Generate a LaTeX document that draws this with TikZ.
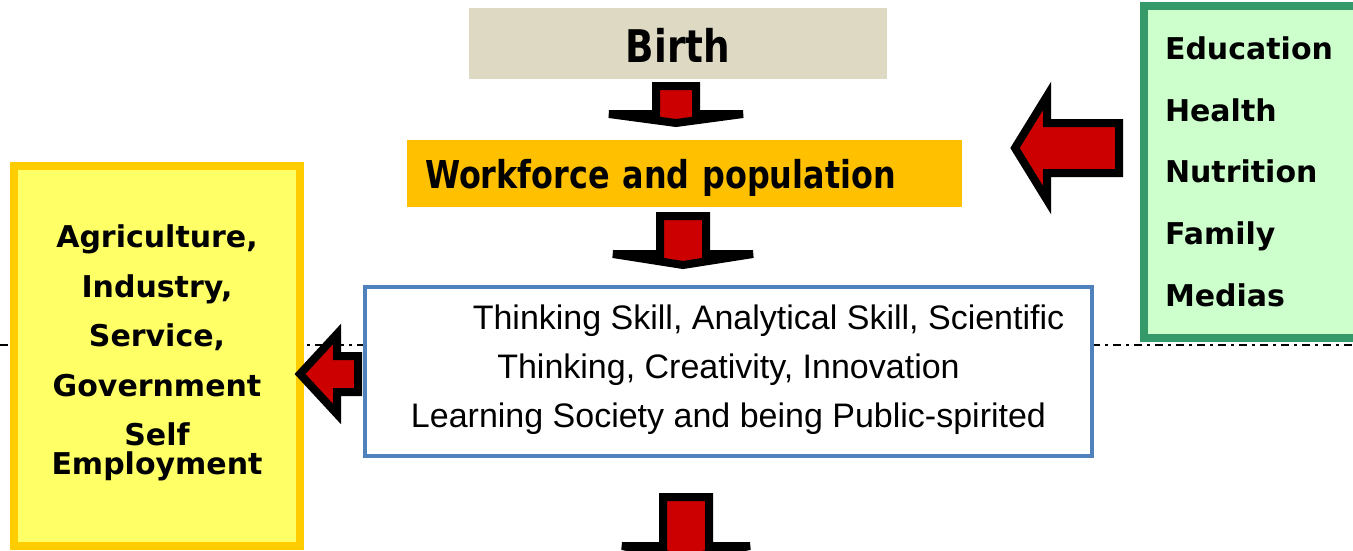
\documentclass[tikz,border=0pt]{standalone}
\usepackage{fontspec}
\setmainfont{DejaVu Sans}
\newfontfamily\narrowfont{DejaVu Sans}[FakeStretch=0.83]
\newfontfamily\skillfont{Liberation Sans}
\definecolor{birthfill}{HTML}{DDD9C3}
\definecolor{workfill}{HTML}{FFC000}
\definecolor{skillblue}{HTML}{4F81BD}
\definecolor{factorgreen}{HTML}{36996A}
\definecolor{factorfill}{HTML}{CCFFCC}
\definecolor{sectoryellow}{HTML}{FFCC00}
\definecolor{sectorfill}{HTML}{FFFF66}
\definecolor{arrowred}{HTML}{CC0000}
\begin{document}
\begin{tikzpicture}[x=1pt,y=-1pt,line join=miter,
	blockarrow/.style={fill=arrowred,draw=black,line width=8pt},
	birthbox/.style={fill=birthfill,minimum width=418pt,minimum height=71pt,inner sep=0pt,
		font=\narrowfont\bfseries\fontsize{45}{54}\selectfont,text height=37pt,text depth=0pt},
	workbox/.style={fill=workfill,minimum height=67pt,text width=519pt,inner xsep=18pt,inner ysep=0pt,align=left,
		font=\narrowfont\bfseries\fontsize{38.4}{46}\selectfont,text height=29pt,text depth=0pt},
	skillbox/.style={draw=skillblue,line width=4pt,fill=white,minimum width=727pt,minimum height=169pt,
		align=center,font=\skillfont\fontsize{34}{49}\selectfont,text depth=11pt},
	factorbox/.style={draw=factorgreen,line width=8pt,fill=factorfill,minimum height=331.5pt,
		text width=214pt,inner xsep=21pt,align=left,font=\bfseries\fontsize{30}{61.6}\selectfont},
	sectorbox/.style={draw=sectoryellow,line width=8pt,fill=sectorfill,minimum width=286pt,minimum height=380pt,
		align=center,font=\bfseries\fontsize{30}{49.5}\selectfont,text depth=13pt}]
	\useasboundingbox (0,0) rectangle (1353,550);
	\clip (0,0) rectangle (1353,550);
	% duong phan cach
	\coordinate (cutL) at (0,345);
	\coordinate (cutR) at (1353,345);
	\draw[line width=1.5pt,dash pattern=on 8pt off 5pt on 3pt off 5pt] (cutL)--(cutR);
	% cac hop
	\node[birthbox] (birth) at (678,43.5) {Birth};
	\node[workbox] (work) at (684.5,173.5) {Workforce and population};
	\node[skillbox] (skill) at (728.5,371.5) {\hspace*{80pt}Thinking Skill, Analytical Skill, Scientific\\
		Thinking, Creativity, Innovation\\Learning Society and being Public-spirited};
	\node[factorbox] (factor) at (1272,171.75) {Education\\Health\\Nutrition\\Family\\Medias};
	\node[sectorbox] (sector) at (157,356) {Agriculture,\\Industry,\\Service,\\Government\\Self\\[-21pt]Employment};
	% mui ten khoi: x/y goc, xoay, nua than, nua mui, dai, dai mui
	\foreach \x/\y/\r/\s/\h/\l/\k in {676/86/0/20/67/37/9,683/216/0/23/70/49/11,686/497/0/23/64/61/12,
		1119/148/-90/25/52/104/32,358/374/-90/18/40/58/37}{
		\begin{scope}[shift={(\x,\y)},rotate=\r]
			\filldraw[blockarrow] (-\s,0)--(\s,0)--(\s,\l-\k)--(\h,\l-\k)--(0,\l)--(-\h,\l-\k)--(-\s,\l-\k)--cycle;
		\end{scope}
	}
\end{tikzpicture}
\end{document}
